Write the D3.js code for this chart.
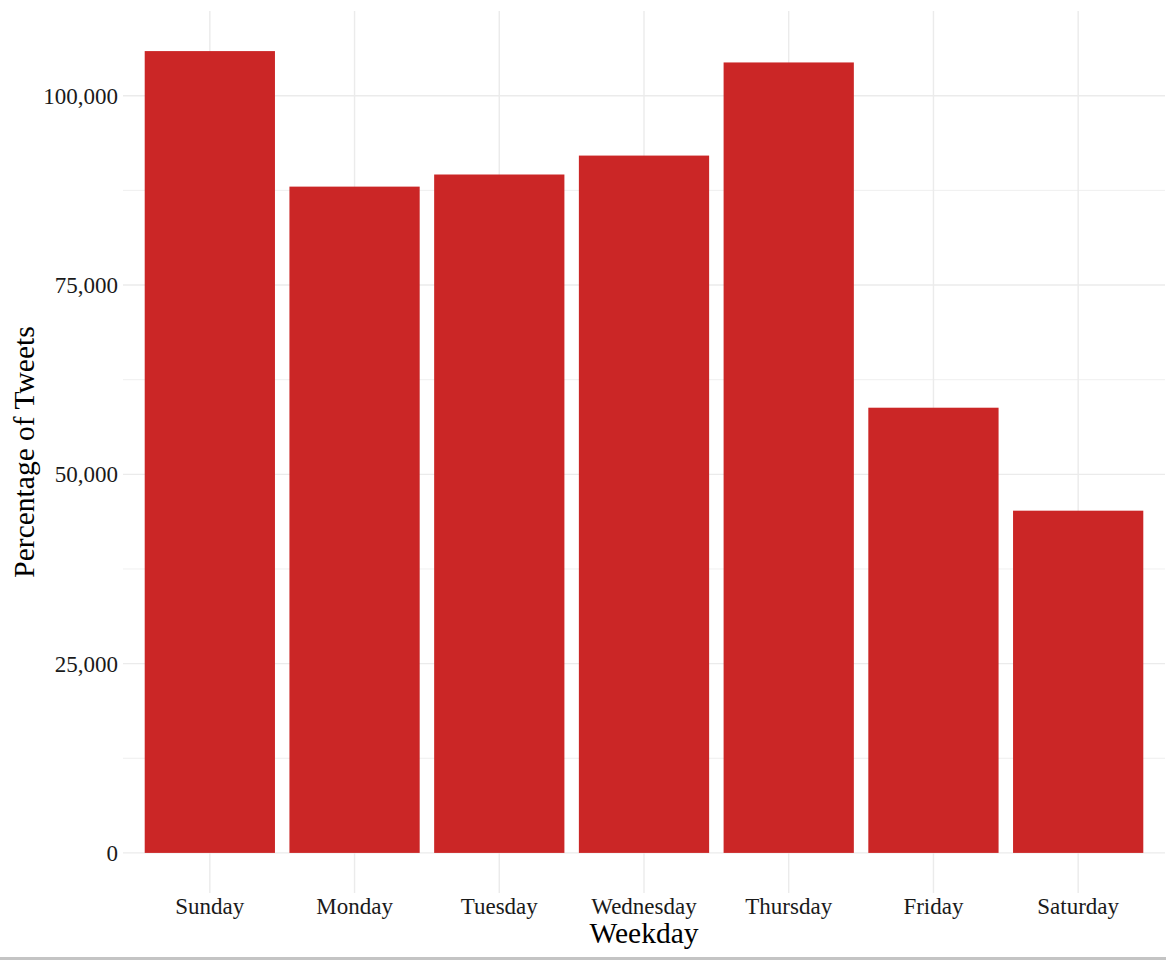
<!DOCTYPE html>
<html><head><meta charset="utf-8">
<script src="https://cdn.jsdelivr.net/npm/d3@7"></script>
<style>body{margin:0;background:#fff;}svg{display:block;}</style>
</head><body>
<svg id="c" width="1166" height="960"></svg>
<script>
const days = ["Sunday","Monday","Tuesday","Wednesday","Thursday","Friday","Saturday"];
const counts = [105900, 88000, 89600, 92100, 104400, 58800, 45200];
const yTicks = [0, 25000, 50000, 75000, 100000];
const yMinor = [12500, 37500, 62500, 87500];

(function () {
const svg = d3.select("#c");
const pL = 123, pR = 1165, pT = 11, pB = 893;
const font = "'Liberation Serif','Times New Roman',serif";

const maxV = d3.max(counts);
const pad = maxV * 0.05;
const y = d3.scaleLinear().domain([-pad, maxV + pad]).range([pB, pT]);
const n = days.length;
const step = (pR - pL) / (n - 1 + 1.2);
const x = d3.scalePoint().domain(days).range([pL + 0.6 * step, pR - 0.6 * step]);
const bw = step * 0.9;

const grid = svg.append("g");
grid.selectAll(".mn").data(yMinor).join("line")
  .attr("x1", pL).attr("x2", pR).attr("y1", d => y(d)).attr("y2", d => y(d))
  .attr("stroke", "#ebebeb").attr("stroke-width", 0.8);
grid.selectAll(".mj").data(yTicks).join("line")
  .attr("x1", pL).attr("x2", pR).attr("y1", d => y(d)).attr("y2", d => y(d))
  .attr("stroke", "#ebebeb").attr("stroke-width", 1.4);
grid.selectAll(".vx").data(days).join("line")
  .attr("x1", d => x(d)).attr("x2", d => x(d)).attr("y1", pT).attr("y2", pB)
  .attr("stroke", "#ebebeb").attr("stroke-width", 1.4);

svg.append("g").selectAll("rect").data(days).join("rect")
  .attr("x", d => x(d) - bw / 2).attr("width", bw)
  .attr("y", (d, i) => y(counts[i])).attr("height", (d, i) => y(0) - y(counts[i]))
  .attr("fill", "#cb2626");

const fmt = d3.format(",");
svg.append("g").selectAll("text").data(yTicks).join("text")
  .attr("x", pL - 5).attr("y", d => y(d)).attr("dy", "0.35em")
  .attr("text-anchor", "end").attr("font-family", font).attr("font-size", 23)
  .attr("fill", "#1a1a1a").text(d => fmt(d));

svg.append("g").selectAll("text").data(days).join("text")
  .attr("x", d => x(d)).attr("y", 914)
  .attr("text-anchor", "middle").attr("font-family", font).attr("font-size", 23)
  .attr("fill", "#1a1a1a").text(d => d);

svg.append("text").attr("x", (pL + pR) / 2).attr("y", 943)
  .attr("text-anchor", "middle").attr("font-family", font).attr("font-size", 29.5)
  .attr("fill", "#000").text("Weekday");

svg.append("text").attr("transform", `translate(34,${(pT + pB) / 2}) rotate(-90)`)
  .attr("text-anchor", "middle").attr("font-family", font).attr("font-size", 29.5)
  .attr("fill", "#000").text("Percentage of Tweets");

svg.append("rect").attr("x", 0).attr("y", 957).attr("width", 1166).attr("height", 3).attr("fill", "#c4c4c4");
})();
</script>
</body></html>
